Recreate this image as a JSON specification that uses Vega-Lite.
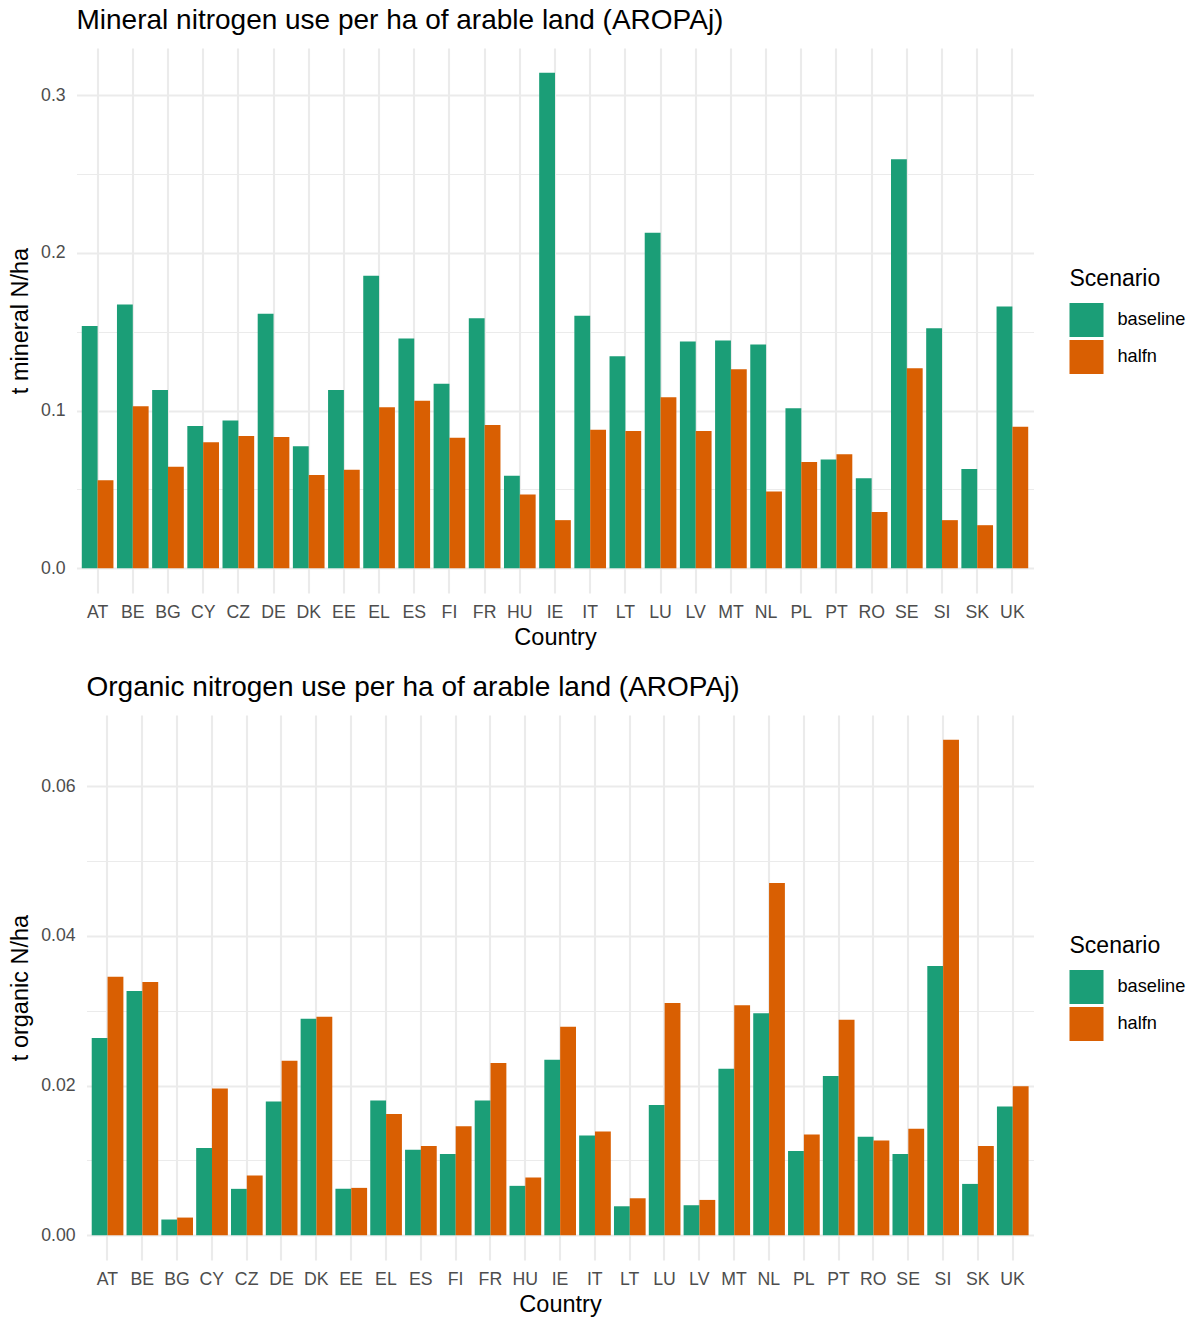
{
  "$schema": "https://vega.github.io/schema/vega-lite/v6.json",
  "background": "white",
  "padding": {"left": 7.5, "top": 7, "right": 5, "bottom": 5},
  "datasets": {
    "mineral": [
      {"Country": "AT", "Scenario": "baseline", "value": 0.1536}, {"Country": "AT", "Scenario": "halfn", "value": 0.0558},
      {"Country": "BE", "Scenario": "baseline", "value": 0.1673}, {"Country": "BE", "Scenario": "halfn", "value": 0.1028},
      {"Country": "BG", "Scenario": "baseline", "value": 0.1131}, {"Country": "BG", "Scenario": "halfn", "value": 0.0643},
      {"Country": "CY", "Scenario": "baseline", "value": 0.0903}, {"Country": "CY", "Scenario": "halfn", "value": 0.0799},
      {"Country": "CZ", "Scenario": "baseline", "value": 0.0937}, {"Country": "CZ", "Scenario": "halfn", "value": 0.0839},
      {"Country": "DE", "Scenario": "baseline", "value": 0.1614}, {"Country": "DE", "Scenario": "halfn", "value": 0.0833},
      {"Country": "DK", "Scenario": "baseline", "value": 0.0774}, {"Country": "DK", "Scenario": "halfn", "value": 0.0592},
      {"Country": "EE", "Scenario": "baseline", "value": 0.1131}, {"Country": "EE", "Scenario": "halfn", "value": 0.0624},
      {"Country": "EL", "Scenario": "baseline", "value": 0.1855}, {"Country": "EL", "Scenario": "halfn", "value": 0.1021},
      {"Country": "ES", "Scenario": "baseline", "value": 0.1457}, {"Country": "ES", "Scenario": "halfn", "value": 0.1062},
      {"Country": "FI", "Scenario": "baseline", "value": 0.1171}, {"Country": "FI", "Scenario": "halfn", "value": 0.0827},
      {"Country": "FR", "Scenario": "baseline", "value": 0.1586}, {"Country": "FR", "Scenario": "halfn", "value": 0.0909},
      {"Country": "HU", "Scenario": "baseline", "value": 0.0586}, {"Country": "HU", "Scenario": "halfn", "value": 0.0467},
      {"Country": "IE", "Scenario": "baseline", "value": 0.3143}, {"Country": "IE", "Scenario": "halfn", "value": 0.0305},
      {"Country": "IT", "Scenario": "baseline", "value": 0.1601}, {"Country": "IT", "Scenario": "halfn", "value": 0.0878},
      {"Country": "LT", "Scenario": "baseline", "value": 0.1345}, {"Country": "LT", "Scenario": "halfn", "value": 0.0871},
      {"Country": "LU", "Scenario": "baseline", "value": 0.2128}, {"Country": "LU", "Scenario": "halfn", "value": 0.1085},
      {"Country": "LV", "Scenario": "baseline", "value": 0.1438}, {"Country": "LV", "Scenario": "halfn", "value": 0.0871},
      {"Country": "MT", "Scenario": "baseline", "value": 0.1444}, {"Country": "MT", "Scenario": "halfn", "value": 0.1263},
      {"Country": "NL", "Scenario": "baseline", "value": 0.1419}, {"Country": "NL", "Scenario": "halfn", "value": 0.0486},
      {"Country": "PL", "Scenario": "baseline", "value": 0.1015}, {"Country": "PL", "Scenario": "halfn", "value": 0.0674},
      {"Country": "PT", "Scenario": "baseline", "value": 0.0689}, {"Country": "PT", "Scenario": "halfn", "value": 0.0723},
      {"Country": "RO", "Scenario": "baseline", "value": 0.0571}, {"Country": "RO", "Scenario": "halfn", "value": 0.0357},
      {"Country": "SE", "Scenario": "baseline", "value": 0.2595}, {"Country": "SE", "Scenario": "halfn", "value": 0.1269},
      {"Country": "SI", "Scenario": "baseline", "value": 0.1523}, {"Country": "SI", "Scenario": "halfn", "value": 0.0305},
      {"Country": "SK", "Scenario": "baseline", "value": 0.0630}, {"Country": "SK", "Scenario": "halfn", "value": 0.0273},
      {"Country": "UK", "Scenario": "baseline", "value": 0.1660}, {"Country": "UK", "Scenario": "halfn", "value": 0.0897}
    ],
    "organic": [
      {"Country": "AT", "Scenario": "baseline", "value": 0.02637}, {"Country": "AT", "Scenario": "halfn", "value": 0.03456},
      {"Country": "BE", "Scenario": "baseline", "value": 0.03265}, {"Country": "BE", "Scenario": "halfn", "value": 0.03385},
      {"Country": "BG", "Scenario": "baseline", "value": 0.0021}, {"Country": "BG", "Scenario": "halfn", "value": 0.00236},
      {"Country": "CY", "Scenario": "baseline", "value": 0.01167}, {"Country": "CY", "Scenario": "halfn", "value": 0.0196},
      {"Country": "CZ", "Scenario": "baseline", "value": 0.0062}, {"Country": "CZ", "Scenario": "halfn", "value": 0.00798},
      {"Country": "DE", "Scenario": "baseline", "value": 0.01786}, {"Country": "DE", "Scenario": "halfn", "value": 0.02334},
      {"Country": "DK", "Scenario": "baseline", "value": 0.02895}, {"Country": "DK", "Scenario": "halfn", "value": 0.02922},
      {"Country": "EE", "Scenario": "baseline", "value": 0.0062}, {"Country": "EE", "Scenario": "halfn", "value": 0.00633},
      {"Country": "EL", "Scenario": "baseline", "value": 0.018}, {"Country": "EL", "Scenario": "halfn", "value": 0.01622},
      {"Country": "ES", "Scenario": "baseline", "value": 0.01141}, {"Country": "ES", "Scenario": "halfn", "value": 0.01194},
      {"Country": "FI", "Scenario": "baseline", "value": 0.01087}, {"Country": "FI", "Scenario": "halfn", "value": 0.01456},
      {"Country": "FR", "Scenario": "baseline", "value": 0.018}, {"Country": "FR", "Scenario": "halfn", "value": 0.02303},
      {"Country": "HU", "Scenario": "baseline", "value": 0.0066}, {"Country": "HU", "Scenario": "halfn", "value": 0.00771},
      {"Country": "IE", "Scenario": "baseline", "value": 0.02347}, {"Country": "IE", "Scenario": "halfn", "value": 0.02788},
      {"Country": "IT", "Scenario": "baseline", "value": 0.01332}, {"Country": "IT", "Scenario": "halfn", "value": 0.01385},
      {"Country": "LT", "Scenario": "baseline", "value": 0.00387}, {"Country": "LT", "Scenario": "halfn", "value": 0.00494},
      {"Country": "LU", "Scenario": "baseline", "value": 0.01742}, {"Country": "LU", "Scenario": "halfn", "value": 0.03105},
      {"Country": "LV", "Scenario": "baseline", "value": 0.00401}, {"Country": "LV", "Scenario": "halfn", "value": 0.00472},
      {"Country": "MT", "Scenario": "baseline", "value": 0.02227}, {"Country": "MT", "Scenario": "halfn", "value": 0.03073},
      {"Country": "NL", "Scenario": "baseline", "value": 0.02966}, {"Country": "NL", "Scenario": "halfn", "value": 0.04708},
      {"Country": "PL", "Scenario": "baseline", "value": 0.01127}, {"Country": "PL", "Scenario": "halfn", "value": 0.01345},
      {"Country": "PT", "Scenario": "baseline", "value": 0.0213}, {"Country": "PT", "Scenario": "halfn", "value": 0.02882},
      {"Country": "RO", "Scenario": "baseline", "value": 0.01318}, {"Country": "RO", "Scenario": "halfn", "value": 0.01265},
      {"Country": "SE", "Scenario": "baseline", "value": 0.01087}, {"Country": "SE", "Scenario": "halfn", "value": 0.01425},
      {"Country": "SI", "Scenario": "baseline", "value": 0.03599}, {"Country": "SI", "Scenario": "halfn", "value": 0.06623},
      {"Country": "SK", "Scenario": "baseline", "value": 0.00686}, {"Country": "SK", "Scenario": "halfn", "value": 0.01194},
      {"Country": "UK", "Scenario": "baseline", "value": 0.0172}, {"Country": "UK", "Scenario": "halfn", "value": 0.01991}
    ]
  },
  "config": {
    "font": "Liberation Sans",
    "view": {"stroke": null},
    "axis": {
      "domain": false,
      "ticks": false,
      "gridColor": "#EBEBEB",
      "gridWidth": 2.1,
      "labelColor": "#4D4D4D",
      "labelFontSize": 17.7,
      "labelFont": "Liberation Sans",
      "titleFont": "Liberation Sans",
      "titleFontSize": 23.5,
      "titleFontWeight": "normal",
      "titleColor": "#000000"
    },
    "legend": {
      "titleFont": "Liberation Sans",
      "labelFont": "Liberation Sans",
      "titleFontSize": 23,
      "titleFontWeight": "normal",
      "titleColor": "#000000",
      "labelFontSize": 18.2,
      "labelColor": "#000000",
      "symbolType": "square",
      "symbolSize": 1156,
      "symbolStrokeWidth": 0,
      "rowPadding": 3,
      "labelOffset": 14,
      "titlePadding": 12
    },
    "title": {
      "font": "Liberation Sans",
      "fontSize": 28,
      "fontWeight": "normal",
      "color": "#000000",
      "anchor": "start",
      "frame": "group",
      "baseline": "alphabetic",
      "offset": 13
    }
  },
  "spacing": 24,
  "resolve": {"legend": {"color": "independent"}},
  "vconcat": [
    {
      "spacing": 0,
      "resolve": {"legend": {"color": "independent"}},
      "hconcat": [
        {"width": 1, "height": 1, "data": {"values": []}, "mark": "point", "encoding": {}},
        {
          "title": "Mineral nitrogen use per ha of arable land (AROPAj)",
          "data": {"name": "mineral"},
          "width": 957,
          "height": 545,
          "mark": {"type": "bar"},
          "encoding": {
            "x": {
              "field": "Country", "type": "nominal", "title": "Country",
              "scale": {"paddingInner": 0.1, "paddingOuter": 0.15},
              "axis": {"labelAngle": 0, "bandPosition": 0.5, "labelPadding": 10, "titlePadding": 5, "grid": true}
            },
            "xOffset": {"field": "Scenario", "type": "nominal", "scale": {"paddingInner": 0, "paddingOuter": 0}},
            "y": {
              "field": "value", "type": "quantitative", "title": "t mineral N/ha",
              "scale": {"domain": [-0.015715, 0.33003], "nice": false, "zero": false},
              "axis": {
                "values": [0, 0.05, 0.1, 0.15, 0.2, 0.25, 0.3],
                "labelExpr": "round(datum.value*100) % 10 == 0 ? format(datum.value, '.1f') : ''",
                "gridWidth": {"condition": {"test": "round(datum.value*100) % 10 == 0", "value": 2.1}, "value": 1.05},
                "labelPadding": 11.3, "titlePadding": 8
              }
            },
            "y2": {"datum": 0},
            "color": {
              "field": "Scenario", "type": "nominal", "title": "Scenario",
              "scale": {"domain": ["baseline", "halfn"], "range": ["#1B9E77", "#D95F02"]},
              "legend": {"orient": "none", "legendX": 993, "legendY": 220}
            }
          }
        }
      ]
    },
    {
      "spacing": 0,
      "resolve": {"legend": {"color": "independent"}},
      "hconcat": [
        {"width": 1, "height": 1, "data": {"values": []}, "mark": "point", "encoding": {}},
        {
          "title": "Organic nitrogen use per ha of arable land (AROPAj)",
          "data": {"name": "organic"},
          "width": 947,
          "height": 545,
          "mark": {"type": "bar"},
          "encoding": {
            "x": {
              "field": "Country", "type": "nominal", "title": "Country",
              "scale": {"paddingInner": 0.1, "paddingOuter": 0.15},
              "axis": {"labelAngle": 0, "bandPosition": 0.5, "labelPadding": 10, "titlePadding": 5, "grid": true}
            },
            "xOffset": {"field": "Scenario", "type": "nominal", "scale": {"paddingInner": 0, "paddingOuter": 0}},
            "y": {
              "field": "value", "type": "quantitative", "title": "t organic N/ha",
              "scale": {"domain": [-0.0033115, 0.0695415], "nice": false, "zero": false},
              "axis": {
                "values": [0, 0.01, 0.02, 0.03, 0.04, 0.05, 0.06],
                "labelExpr": "round(datum.value*1000) % 20 == 0 ? format(datum.value, '.2f') : ''",
                "gridWidth": {"condition": {"test": "round(datum.value*1000) % 20 == 0", "value": 2.1}, "value": 1.05},
                "labelPadding": 11.3, "titlePadding": 8
              }
            },
            "y2": {"datum": 0},
            "color": {
              "field": "Scenario", "type": "nominal", "title": "Scenario",
              "scale": {"domain": ["baseline", "halfn"], "range": ["#1B9E77", "#D95F02"]},
              "legend": {"orient": "none", "legendX": 983, "legendY": 220}
            }
          }
        }
      ]
    }
  ]
}
